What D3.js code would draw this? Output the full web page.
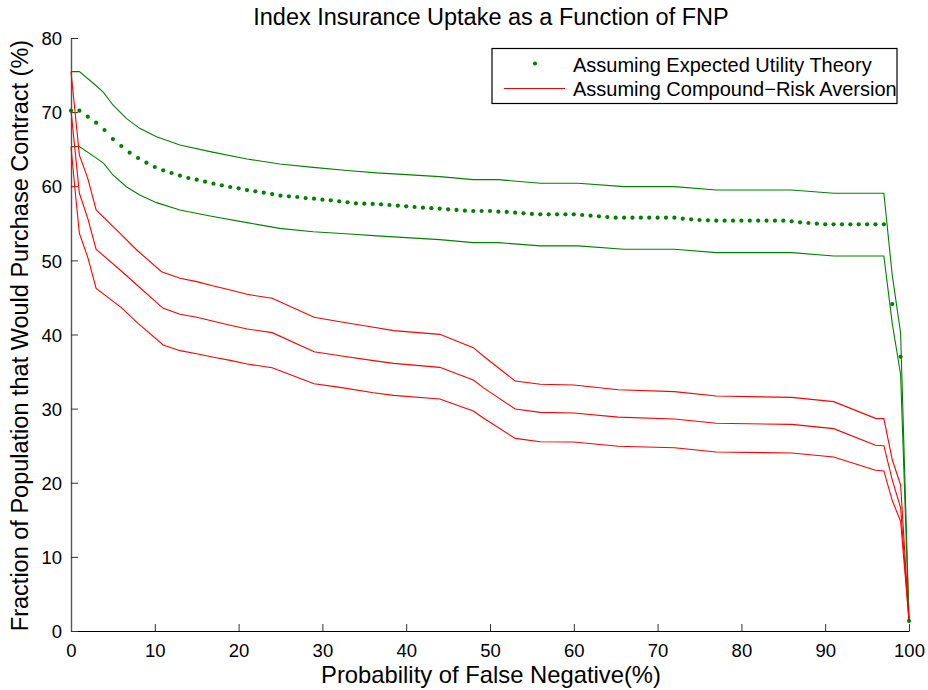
<!DOCTYPE html>
<html>
<head>
<meta charset="utf-8">
<script src="https://cdn.jsdelivr.net/npm/d3@7"></script>
<style>
  html, body { margin: 0; padding: 0; background: #fff; }
  text { font-family: "Liberation Sans", Arial, Helvetica, sans-serif; fill: #000; }
</style>
</head>
<body>
<svg id="chart" width="928" height="690"></svg>
<script>
// ---------------- data ----------------
const fnp = [0,1,2,3,4,5,6,7,8,9,10,11,12,13,14,15,16,17,18,19,20,21,22,23,24,25,26,27,28,29,30,
  31,32,33,34,35,36,37,38,39,40,41,42,43,44,45,46,47,48,49,50,51,52,53,54,55,56,57,58,59,60,
  61,62,63,64,65,66,67,68,69,70,71,72,73,74,75,76,77,78,79,80,81,82,83,84,85,86,87,88,89,90,
  91,92,93,94,95,96,97,98,99,100];

const eutUptake = [70.2,70.2,69.39,68.58,67.59,66.37,65.43,64.53,63.81,63.18,62.6,62.15,61.79,61.43,61.11,60.89,
  60.62,60.35,60.12,59.9,59.72,59.49,59.31,59.13,58.95,58.73,58.64,58.55,58.41,58.33,58.19,58.1,57.97,57.84,
  57.7,57.65,57.61,57.56,57.47,57.38,57.29,57.2,57.11,57.04,56.98,56.89,56.8,56.71,56.66,56.66,56.66,56.57,
  56.53,56.44,56.35,56.26,56.21,56.21,56.21,56.21,56.21,56.12,56.03,55.94,55.85,55.76,55.76,55.76,55.76,55.76,
  55.76,55.76,55.76,55.63,55.54,55.45,55.4,55.36,55.36,55.36,55.36,55.36,55.36,55.36,55.36,55.36,55.27,55.13,
  55.04,54.95,54.86,54.86,54.86,54.86,54.86,54.86,54.86,54.86,44.1,37.0,1.35];

const eutUpper = [[0,75.46],[1,75.46],[2.9,73.66],[3.9,72.63],[5,70.96],[6.6,69.16],[8.2,67.81],[10.2,66.69],
  [13,65.57],[16.6,64.67],[21,63.68],[24.9,63.0],[28.9,62.55],[33.3,62.1],[36.5,61.8],[44,61.3],[48,60.9],
  [51,60.9],[56,60.4],[60.5,60.4],[66,59.95],[72,59.95],[77,59.5],[86,59.5],[91,59.05],[97,59.05],[98,48.0],
  [99,40.2],[100,1.4]];

const eutLower = [[0,65.34],[1,65.34],[2.9,63.9],[3.9,63.09],[5,61.52],[6.6,59.94],[8.2,58.82],[10.2,57.79],
  [13,56.8],[16.6,55.99],[21,55.09],[24.9,54.32],[28.9,53.87],[33.3,53.56],[36.5,53.3],[44,52.8],[48,52.4],
  [51,52.4],[56,51.95],[60.5,51.95],[66,51.5],[72,51.5],[77,51.05],[86,51.05],[91,50.6],[97,50.6],[98,41.5],
  [99,34.6],[100,1.4]];

const craHigh = [[0,75.45],[1,64.2],[2,61.07],[3,56.8],[5.85,53.65],[7.84,51.4],[10.8,48.47],[13,47.58],
  [15,47.13],[17,46.54],[19,46.0],[21,45.42],[24,44.88],[29,42.32],[32.1,41.73],[36.1,40.97],[38.5,40.52],
  [44,40.02],[48,38.22],[49.2,37.1],[53,33.73],[56,33.28],[60,33.19],[65.3,32.55],[72,32.29],[77,31.7],
  [86,31.52],[91,30.94],[96,28.69],[97,28.65],[98,23.1],[99,19.7],[100,1.4]];

const craMid = [[0,70.2],[1,59.05],[2,55.67],[3,51.49],[6,48.57],[8,46.54],[11,43.53],[13,42.72],[15,42.32],
  [17,41.78],[19,41.24],[21,40.74],[24,40.25],[29,37.68],[32.1,37.14],[36.1,36.47],[38.5,36.11],[44,35.57],
  [48,33.86],[49.2,32.83],[53,29.95],[56,29.5],[60,29.41],[65.3,28.85],[72,28.6],[77,28.02],[86,27.88],
  [91,27.3],[96,25.05],[97,25.0],[98,20.4],[99,16.6],[100,1.4]];

const craLow = [[0,65.3],[0.6,58.15],[1,53.65],[2,50.41],[3,46.23],[6,43.62],[8,41.51],[11,38.59],[13,37.82],
  [15,37.41],[17,36.92],[19,36.51],[21,36.02],[24,35.52],[29,33.36],[32.1,32.87],[36.1,32.15],[38.5,31.79],
  [44,31.3],[48,29.68],[49.2,28.74],[53,25.99],[56,25.54],[60,25.5],[65.3,24.93],[72,24.73],[77,24.15],
  [86,24.01],[91,23.47],[96,21.68],[97,21.59],[98,17.6],[99,14.8],[100,1.4]];

const xTicks = [0,10,20,30,40,50,60,70,80,90,100];
const yTicks = [0,10,20,30,40,50,60,70,80];

const titleText = "Index Insurance Uptake as a Function of FNP";
const xLabelText = "Probability of False Negative(%)";
const yLabelText = "Fraction of Population that Would Purchase Contract (%)";
const legendLabels = ["Assuming Expected Utility Theory", "Assuming Compound\u2212Risk Aversion"];

// ---------------- layout ----------------
const svg = d3.select("#chart");
const margin = {left: 71, right: 19, top: 38, bottom: 59};
const W = 928, H = 690;
const x = d3.scaleLinear().domain([0, 100]).range([margin.left, W - margin.right]);
const y = d3.scaleLinear().domain([0, 80]).range([H - margin.bottom, margin.top]);

const green = "#008000", red = "#ff0000";
const font = "Liberation Sans, Arial, sans-serif";

// axes
const xAxis = d3.axisBottom(x).tickValues(xTicks).tickSizeInner(-7).tickSizeOuter(0).tickPadding(17);
const yAxis = d3.axisLeft(y).tickValues(yTicks).tickSizeInner(-7).tickSizeOuter(0).tickPadding(9);

const gx = svg.append("g").attr("transform", `translate(0,${y(0)})`).call(xAxis);
gx.select(".domain").attr("stroke", "#000").attr("stroke-width", 1.2);
gx.selectAll(".tick line").attr("stroke", "#333");
gx.selectAll(".tick text").attr("font-size", 18.5).attr("font-family", font).attr("dy", "0.5em");

const gy = svg.append("g").attr("transform", `translate(${x(0)},0)`).call(yAxis);
gy.select(".domain").attr("stroke", "#555").attr("stroke-width", 1.4);
gy.selectAll(".tick line").attr("stroke", "#333");
gy.selectAll(".tick text").attr("font-size", 18.5).attr("font-family", font).attr("dy", "0.36em");

// lines
const line = d3.line().x(d => x(d[0])).y(d => y(d[1]));
const plot = svg.append("g");
[eutUpper, eutLower].forEach(s => {
  plot.append("path").datum(s).attr("d", line).attr("fill", "none").attr("stroke", green).attr("stroke-width", 1.1);
});
[craHigh, craMid, craLow].forEach(s => {
  plot.append("path").datum(s).attr("d", line).attr("fill", "none").attr("stroke", red).attr("stroke-width", 1.1);
});
plot.selectAll("circle.eut").data(fnp).enter().append("circle")
  .attr("class", "eut")
  .attr("cx", (d) => x(d))
  .attr("cy", (d, i) => y(eutUptake[i]))
  .attr("r", 2.1)
  .attr("fill", green);

// title and labels
svg.append("text").attr("x", x(50) + 1).attr("y", 25).attr("text-anchor", "middle")
  .attr("font-size", 23.5).text(titleText);
svg.append("text").attr("x", x(50) + 1).attr("y", 683).attr("text-anchor", "middle")
  .attr("font-size", 23.8).text(xLabelText);
svg.append("text").attr("transform", `translate(28,${(y(0) + y(80)) / 2 + 1}) rotate(-90)`)
  .attr("text-anchor", "middle").attr("font-size", 23.5).text(yLabelText);

// legend
const lg = svg.append("g");
lg.append("rect").attr("x", 492).attr("y", 48.5).attr("width", 405).attr("height", 55)
  .attr("fill", "#fff").attr("stroke", "#000").attr("stroke-width", 1.2);
lg.append("circle").attr("cx", 535).attr("cy", 63.5).attr("r", 2.1).attr("fill", green);
lg.append("line").attr("x1", 504).attr("x2", 565).attr("y1", 88.5).attr("y2", 88.5)
  .attr("stroke", red).attr("stroke-width", 1.1);
lg.append("text").attr("x", 573).attr("y", 71.5).attr("font-size", 20).text(legendLabels[0]);
lg.append("text").attr("x", 573).attr("y", 95.5).attr("font-size", 20).text(legendLabels[1]);
</script>
</body>
</html>
